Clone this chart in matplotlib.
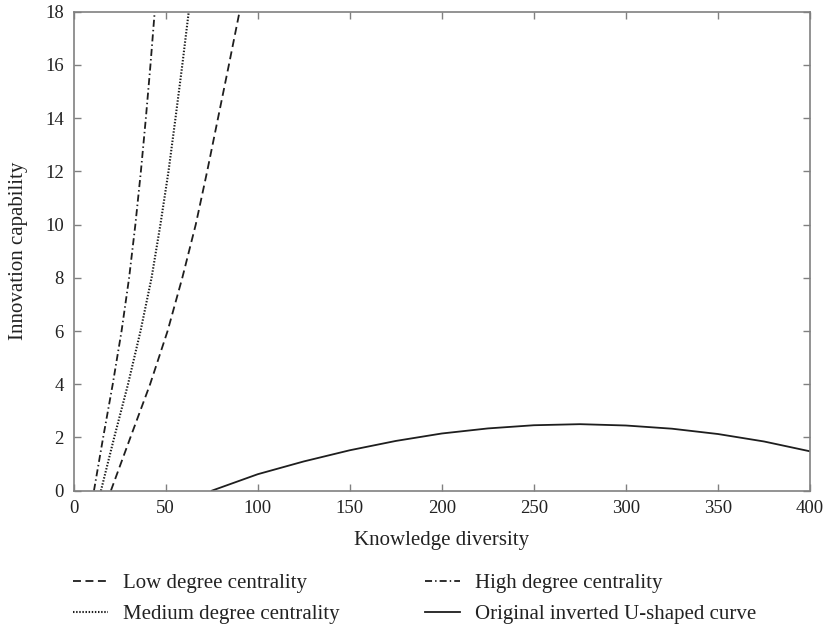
import matplotlib
matplotlib.use("Agg")
import matplotlib.pyplot as plt

# (x position of each curve at given heights)
lvl = [0, 2, 4, 6, 8, 10, 12, 14, 16, 18]
low_x = [20.2, 30.8, 41.5, 51.0, 59.0, 66.3, 72.5, 78.4, 84.3, 90.1]
med_x = [14.8, 22.0, 29.5, 36.3, 42.3, 47.1, 51.5, 55.3, 59.0, 62.5]
high_x = [11.0, 16.0, 21.2, 26.0, 30.1, 33.5, 36.5, 39.2, 41.7, 44.0]

u_x = [75, 100, 125, 150, 175, 200, 225, 250, 275, 300, 325, 350, 375, 400]
u_y = [0, 0.62, 1.1, 1.52, 1.87, 2.15, 2.34, 2.46, 2.5, 2.45, 2.33, 2.13, 1.85, 1.48]

xticks = [0, 50, 100, 150, 200, 250, 300, 350, 400]
yticks = [0, 2, 4, 6, 8, 10, 12, 14, 16, 18]

plt.rcParams["font.family"] = ["Liberation Serif", "DejaVu Serif"]

W, H = 828, 631
fig = plt.figure(figsize=(W / 100, H / 100), dpi=100)
ax = fig.add_axes([73.7 / W, 1 - 490.7 / H, (810 - 73.7) / W, (490.7 - 11.7) / H])

ink = "#1e1e1e"
lw = 1.3
l1, = ax.plot(low_x, lvl, color=ink, lw=lw, linestyle=(0, (4.4, 2.5)),
              label="Low degree centrality")
l2, = ax.plot(med_x, lvl, color=ink, lw=1.5, linestyle=(0, (0.7, 0.8)),
              label="Medium degree centrality")
l3, = ax.plot(high_x, lvl, color=ink, lw=lw, linestyle=(0, (3.9, 1.7, 0.8, 1.7)),
              label="High degree centrality")
l4, = ax.plot(u_x, u_y, color=ink, lw=lw, linestyle="-",
              label="Original inverted U-shaped curve")

ax.set_xlim(0, 400)
ax.set_ylim(0, 18)
ax.set_xticks(xticks)
ax.set_yticks(yticks)
ax.tick_params(direction="in", length=5, width=1, colors="#808080",
               labelcolor="#222222", labelsize=13.5, pad=7, top=True, right=True)
for s in ax.spines.values():
    s.set_color("#808080")
    s.set_linewidth(1.2)

ax.set_xlabel("Knowledge diversity", fontsize=15, color="#222222", va="center")
ax.xaxis.set_label_coords(0.5, -(540 - 490.7) / (490.7 - 11.7))
ax.set_ylabel("Innovation capability", fontsize=15, color="#222222", va="center")
ax.yaxis.set_label_coords(-(73.7 - 18) / (810 - 73.7), 0.5)

fig.legend(handles=[l1, l2, l3, l4], ncol=2, loc="center left",
           bbox_to_anchor=(73.3 / W, 1 - 599 / H), frameon=False, fontsize=15,
           borderpad=0, borderaxespad=0,
           handlelength=1.67, handletextpad=0.72, columnspacing=4.1,
           labelspacing=0.55, labelcolor="#222222")

fig.savefig("out.png", dpi=100)
